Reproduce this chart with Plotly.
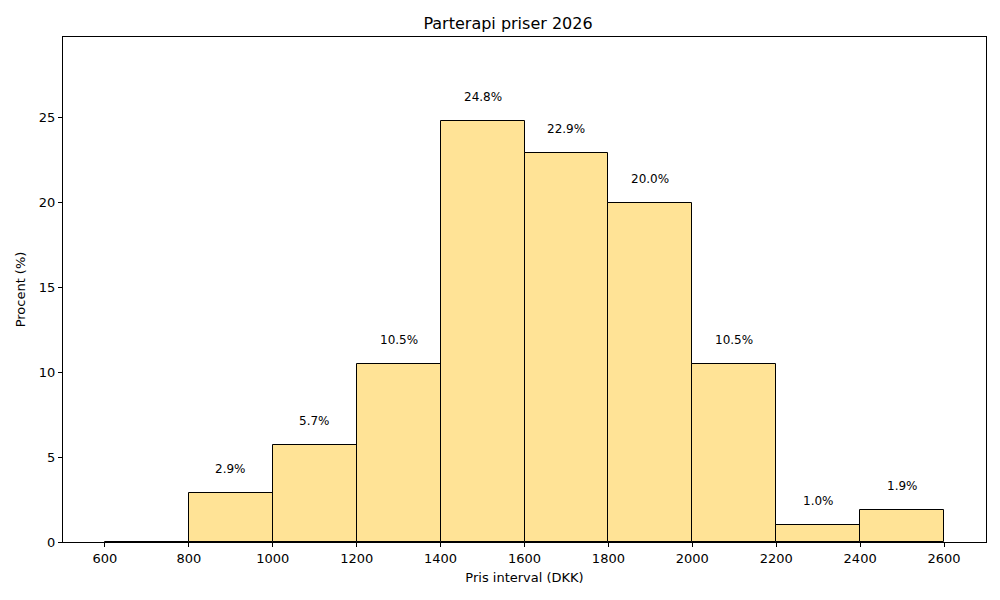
import plotly.graph_objects as go

# bins (DKK) and share of prices in each bin (%)
bin_starts = [600, 800, 1000, 1200, 1400, 1600, 1800, 2000, 2200, 2400]
bin_width = 200
percent = [0.0, 2.9, 5.7, 10.5, 24.8, 22.9, 20.0, 10.5, 1.0, 1.9]
x_ticks = [600, 800, 1000, 1200, 1400, 1600, 1800, 2000, 2200, 2400, 2600]
y_ticks = [0, 5, 10, 15, 20, 25]

centers = [b + bin_width / 2 for b in bin_starts]

fig = go.Figure()
fig.add_trace(go.Bar(
    x=centers, y=percent, width=[bin_width] * len(centers),
    marker=dict(color="#ffe396", line=dict(color="black", width=1)),
    showlegend=False,
))

# percentage labels above non-empty bins
for c, p in zip(centers, percent):
    if p > 0:
        fig.add_annotation(x=c, y=p + 1, text=f"{p:.1f}%", showarrow=False,
                           yanchor="bottom", yshift=-2,
                           font=dict(size=12, color="black"))

axis_common = dict(showline=True, linecolor="black", linewidth=1, mirror=True,
                   ticks="outside", ticklen=4, tickcolor="black",
                   showgrid=False, zeroline=False,
                   tickfont=dict(size=13, color="black"))

fig.update_layout(
    width=1000, height=600,
    template="none",
    paper_bgcolor="white", plot_bgcolor="white",
    font=dict(family="DejaVu Sans", color="black"),
    title=dict(text="Parterapi priser 2026", x=0.5, xanchor="center",
               y=0.975, yanchor="middle", font=dict(size=16, color="black")),
    margin=dict(l=55, r=22, t=29, b=66),
    bargap=0,
    xaxis=dict(range=[500, 2700], tickvals=x_ticks,
               title=dict(text="Pris interval (DKK)", font=dict(size=13), standoff=8),
               **axis_common),
    yaxis=dict(range=[0, 29.76], tickvals=y_ticks,
               title=dict(text="Procent (%)", font=dict(size=13), standoff=10),
               **axis_common),
)

fig.write_html("out.html")
